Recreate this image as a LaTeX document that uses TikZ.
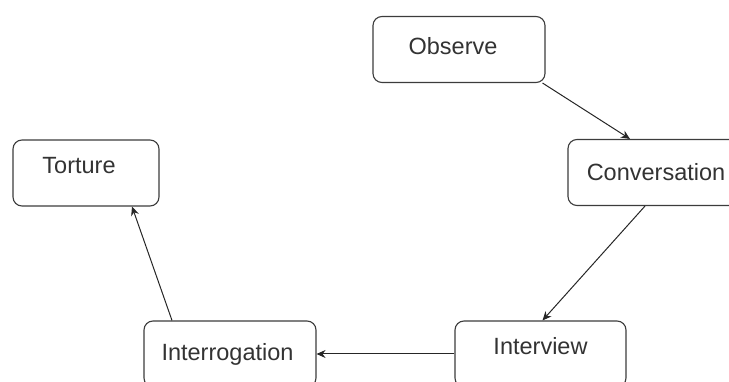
\documentclass[tikz,border=0pt]{standalone}
\usepackage{fontspec}
\setmainfont{Liberation Sans}
\usepackage{tikz}
\usetikzlibrary{positioning,arrows.meta}
\definecolor{boxline}{HTML}{3C3C3C}
\definecolor{darktext}{HTML}{333333}

\begin{document}
\begin{tikzpicture}[x=1pt,y=-1pt,
  stage/.style={rectangle, draw=boxline, line width=1.1pt, fill=white, rounded corners=9pt,
    minimum height=66pt, text=darktext, font=\fontsize{23.5}{28}\selectfont, inner sep=0pt},
  arr/.style={-{Stealth[length=9pt,width=8pt]}, line width=1pt, color=black!85}
]
\useasboundingbox (0,0) rectangle (729,382);
\clip (0,0) rectangle (729,382);
\node[stage,minimum width=172pt,text depth=8pt] (obs) at (459,49.5) {Observe\hspace*{12pt}};
\node[stage,minimum width=176pt] (conv) at (656,172.5) {Conversation};
\node[stage,minimum width=146pt,text depth=16pt] (tort) at (86,173) {Torture\hspace*{14pt}};
\node[stage,minimum width=172pt] (interg) at (230,354) {Interrogation\hspace*{5pt}};
\node[stage,minimum width=171pt,text depth=17pt] (intv) at (540.5,354) {Interview};
\draw[arr] ([xshift=-3pt]obs.south east) -- ([xshift=-26pt]conv.north);
\draw[arr] ([xshift=-11pt]conv.south) -- ([xshift=2pt]intv.north);
\draw[arr] (intv.west) -- (interg.east);
\draw[arr] ([xshift=-58pt]interg.north) -- ([xshift=46pt]tort.south);
\end{tikzpicture}
\end{document}
